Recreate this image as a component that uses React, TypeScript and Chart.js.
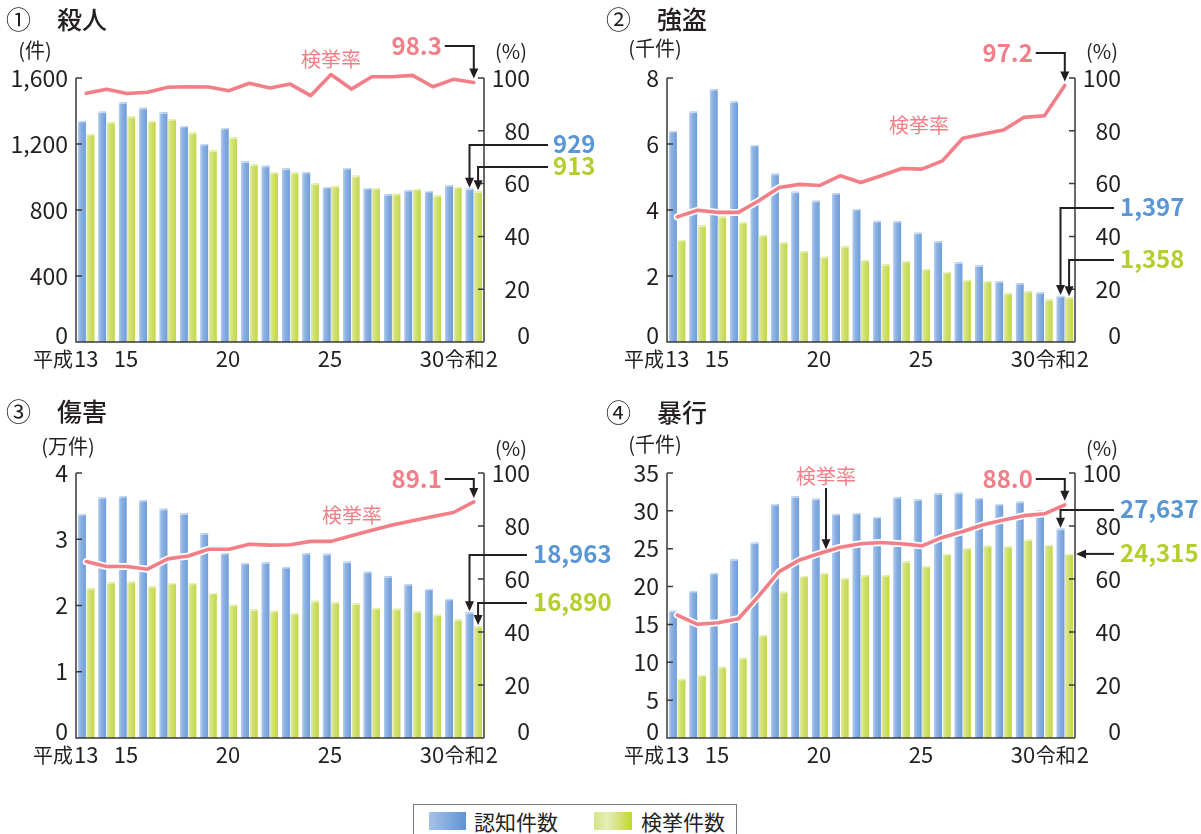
import { useEffect, useRef } from 'react';
import { Chart, registerables } from 'chart.js';

Chart.register(...registerables);

const FONT = '"Noto Sans CJK JP", "Noto Sans", sans-serif';
const INK = '#231f20';
const AXIS = '#3a3a3a';
const BLUE = '#7ea8de';
const GREEN = '#c9db5a';
const PINK = '#f27e87';
const BLUE_TEXT = '#5b96d4';
const GREEN_TEXT = '#b3cf2e';

// 平成13年 – 令和2年
const years = [
  '平成13', '14', '15', '16', '17', '18', '19', '20', '21', '22',
  '23', '24', '25', '26', '27', '28', '29', '30', '令和元', '2',
];
const xTickIndex = [0, 2, 7, 12, 17, 19];
const xTickText = ['平成13', '15', '20', '25', '30', '令和2'];

const rateTicks = [0, 20, 40, 60, 80, 100];

// ① 殺人 (件)
const murderTicks = [0, 400, 800, 1200, 1600];
const murderRecognized = [1340, 1396, 1452, 1419, 1392, 1309, 1199, 1297, 1094, 1068, 1051, 1030, 939, 1054, 933, 895, 920, 915, 950, 929];
const murderCleared = [1261, 1334, 1366, 1340, 1350, 1269, 1160, 1239, 1076, 1027, 1027, 961, 946, 1007, 932, 898, 928, 888, 940, 913];
const murderRate = [94.2, 95.7, 94.1, 94.6, 96.5, 96.7, 96.6, 95.2, 98.0, 96.2, 97.7, 93.3, 101.3, 95.8, 100.5, 100.5, 101.0, 96.7, 99.5, 98.3];

// ② 強盗 (千件)
const robberyTicks = [0, 2, 4, 6, 8];
const robberyRecognized = [6.39, 6.98, 7.66, 7.29, 5.97, 5.1, 4.55, 4.28, 4.51, 4.03, 3.67, 3.66, 3.31, 3.05, 2.41, 2.32, 1.84, 1.78, 1.5, 1.397];
const robberyCleared = [3.09, 3.53, 3.8, 3.63, 3.24, 3.03, 2.75, 2.58, 2.9, 2.48, 2.35, 2.45, 2.21, 2.12, 1.88, 1.85, 1.48, 1.54, 1.29, 1.358];
const robberyRate = [47.4, 49.9, 49.1, 49.1, 53.5, 58.5, 59.7, 59.3, 63.0, 60.4, 63.0, 65.7, 65.5, 68.6, 77.2, 78.8, 80.3, 85.1, 85.7, 97.2];

// ③ 傷害 (万件)
const assaultTicks = [0, 1, 2, 3, 4];
const assaultRecognized = [3.38, 3.63, 3.65, 3.59, 3.46, 3.39, 3.09, 2.79, 2.64, 2.65, 2.58, 2.79, 2.78, 2.66, 2.51, 2.44, 2.32, 2.25, 2.1, 1.8963];
const assaultCleared = [2.26, 2.35, 2.36, 2.29, 2.34, 2.34, 2.19, 2.01, 1.94, 1.92, 1.88, 2.07, 2.05, 2.03, 1.96, 1.95, 1.91, 1.86, 1.79, 1.689];
const assaultRate = [66.6, 64.7, 64.7, 63.7, 67.6, 68.7, 71.2, 71.2, 73.1, 72.8, 72.9, 74.2, 74.2, 76.3, 78.4, 80.4, 82.0, 83.6, 85.1, 89.1];

// ④ 暴行 (千件)
const violenceTicks = [0, 5, 10, 15, 20, 25, 30, 35];
const violenceRecognized = [16.8, 19.4, 21.8, 23.6, 25.8, 30.9, 31.9, 31.6, 29.6, 29.7, 29.2, 31.8, 31.5, 32.3, 32.4, 31.7, 30.9, 31.2, 30.1, 27.637];
const violenceCleared = [7.8, 8.3, 9.4, 10.6, 13.6, 19.3, 21.4, 21.8, 21.1, 21.5, 21.5, 23.3, 22.7, 24.3, 25.1, 25.4, 25.3, 26.2, 25.5, 24.315];
const violenceRate = [46.4, 42.9, 43.5, 45.0, 53.6, 62.8, 67.2, 69.7, 72.0, 73.3, 73.8, 73.3, 72.5, 75.7, 77.9, 80.5, 82.3, 83.9, 84.6, 88.0];

type Panel = {
  key: string;
  mark: string;
  title: string;
  unit: string;
  factor: number;
  ticks: number[];
  recognized: number[];
  cleared: number[];
  rate: number[];
  box: { x: number; y: number; w: number; h: number };
  area: { l: number; t: number; r: number; b: number };
  titleY: number;
  unitX: number;
  unitY: number;
  pctY: number;
  noteX: number;
  noteY: number;
  noteArrowIndex: number | null;
  pinkY: number;
  blueY: number;
  greenY: number;
  startX: number;
  textX: number;
  greenFromSide: boolean;
};

const panels: Panel[] = [
  {
    key: 'murder', mark: '①', title: '殺人', unit: '(件)', factor: 1,
    ticks: murderTicks, recognized: murderRecognized, cleared: murderCleared, rate: murderRate,
    box: { x: 0, y: 0, w: 620, h: 390 }, area: { l: 76, t: 78, r: 484, b: 342 },
    titleY: 19, unitX: 35, unitY: 50, pctY: 51, noteX: 331, noteY: 59, noteArrowIndex: null,
    pinkY: 46, blueY: 145, greenY: 167, startX: 548, textX: 553, greenFromSide: false,
  },
  {
    key: 'robbery', mark: '②', title: '強盗', unit: '(千件)', factor: 1000,
    ticks: robberyTicks, recognized: robberyRecognized, cleared: robberyCleared, rate: robberyRate,
    box: { x: 600, y: 0, w: 601, h: 390 }, area: { l: 67, t: 78, r: 475, b: 342 },
    titleY: 19, unitX: 55, unitY: 48, pctY: 51, noteX: 319, noteY: 125, noteArrowIndex: null,
    pinkY: 53, blueY: 208, greenY: 260, startX: 514, textX: 520, greenFromSide: false,
  },
  {
    key: 'assault', mark: '③', title: '傷害', unit: '(万件)', factor: 10000,
    ticks: assaultTicks, recognized: assaultRecognized, cleared: assaultCleared, rate: assaultRate,
    box: { x: 0, y: 390, w: 620, h: 395 }, area: { l: 76, t: 83, r: 484, b: 348 },
    titleY: 21, unitX: 68, unitY: 56, pctY: 58, noteX: 352, noteY: 125, noteArrowIndex: null,
    pinkY: 89, blueY: 165, greenY: 213, startX: 527, textX: 533, greenFromSide: false,
  },
  {
    key: 'violence', mark: '④', title: '暴行', unit: '(千件)', factor: 1000,
    ticks: violenceTicks, recognized: violenceRecognized, cleared: violenceCleared, rate: violenceRate,
    box: { x: 600, y: 390, w: 601, h: 395 }, area: { l: 67, t: 83, r: 475, b: 348 },
    titleY: 22, unitX: 55, unitY: 54, pctY: 58, noteX: 226, noteY: 86, noteArrowIndex: 7,
    pinkY: 89, blueY: 120, greenY: 165, startX: 514, textX: 520, greenFromSide: true,
  },
];

const BLUE_STOPS: [number, string][] = [[0, '#b4cdee'], [0.3, '#8fb3e3'], [1, '#6e9dd9']];
const GREEN_STOPS: [number, string][] = [[0, '#e2eca8'], [0.3, '#d3e27a'], [1, '#c3d748']];

function arrowDown(ctx: CanvasRenderingContext2D, x: number, y: number) {
  ctx.beginPath();
  ctx.moveTo(x, y);
  ctx.lineTo(x - 4.5, y - 10);
  ctx.lineTo(x + 4.5, y - 10);
  ctx.closePath();
  ctx.fill();
}

function arrowLeft(ctx: CanvasRenderingContext2D, x: number, y: number) {
  ctx.beginPath();
  ctx.moveTo(x, y);
  ctx.lineTo(x + 10, y - 4.5);
  ctx.lineTo(x + 10, y + 4.5);
  ctx.closePath();
  ctx.fill();
}

const fmt = (v: number) => v.toLocaleString('en-US');

function makeDecor(p: Panel) {
  return {
    id: 'decor-' + p.key,
    afterDatasetDraw(chart: any, args: any) {
      if (args.index > 1) return;
      const ctx: CanvasRenderingContext2D = chart.ctx;
      const stops = args.index === 0 ? BLUE_STOPS : GREEN_STOPS;
      ctx.save();
      args.meta.data.forEach((el: any) => {
        const { x, y, base, width } = el.getProps(['x', 'y', 'base', 'width'], true);
        const left = x - width / 2;
        const g = ctx.createLinearGradient(left, 0, left + width, 0);
        stops.forEach(([o, c]) => g.addColorStop(o, c));
        ctx.fillStyle = g;
        ctx.fillRect(left, y, width, base - y);
        ctx.fillStyle = 'rgba(255,255,255,0.55)';
        ctx.fillRect(left, y, width, 1.5);
      });
      ctx.restore();
    },
    afterDraw(chart: any) {
      const ctx: CanvasRenderingContext2D = chart.ctx;
      const { left, right, top, bottom } = chart.chartArea;
      const ys = chart.scales.y;
      const yr = chart.scales.y2;
      const xs = chart.scales.x;
      ctx.save();

      // axes and inward ticks
      ctx.strokeStyle = AXIS;
      ctx.lineWidth = 1.5;
      ctx.beginPath();
      ctx.moveTo(left, top);
      ctx.lineTo(left, bottom);
      ctx.lineTo(right, bottom);
      ctx.moveTo(right, top);
      ctx.lineTo(right, bottom);
      p.ticks.forEach((v) => {
        if (v === 0) return;
        const py = ys.getPixelForValue(v);
        ctx.moveTo(left, py);
        ctx.lineTo(left + 6, py);
      });
      rateTicks.forEach((v) => {
        if (v === 0) return;
        const py = yr.getPixelForValue(v);
        ctx.moveTo(right - 6, py);
        ctx.lineTo(right, py);
      });
      ctx.stroke();

      // y tick labels
      ctx.fillStyle = INK;
      ctx.textBaseline = 'middle';
      ctx.font = `23px ${FONT}`;
      ctx.textAlign = 'right';
      p.ticks.forEach((v) => {
        ctx.fillText(fmt(v), left - 8, ys.getPixelForValue(v) - (v === 0 ? 7 : 0));
      });
      rateTicks.forEach((v) => {
        ctx.fillText(String(v), right + 46, yr.getPixelForValue(v) - (v === 0 ? 7 : 0));
      });

      // x tick labels
      const labelY = bottom + 17;
      xTickIndex.forEach((idx, k) => {
        const text = xTickText[k];
        const m = text.match(/^(\D*)(\d+)$/);
        const prefix = m ? m[1] : '';
        const digits = m ? m[2] : text;
        const cx = xs.getPixelForValue(idx);
        ctx.font = `22px ${FONT}`;
        const dw = ctx.measureText(digits).width;
        ctx.font = `20px ${FONT}`;
        const pw = prefix ? ctx.measureText(prefix).width : 0;
        let digitsLeft: number;
        if (idx === 0) digitsLeft = cx - dw / 2;
        else if (prefix) digitsLeft = cx - 2 + (pw + dw) / 2 - dw;
        else digitsLeft = cx - 1 - dw / 2;
        if (prefix) {
          ctx.textAlign = 'right';
          ctx.fillText(prefix, digitsLeft - 1, labelY);
        }
        ctx.font = `22px ${FONT}`;
        ctx.textAlign = 'left';
        ctx.fillText(digits, digitsLeft, labelY);
      });

      // title and units
      ctx.textAlign = 'left';
      ctx.font = `25px ${FONT}`;
      ctx.fillText(p.mark, 6, p.titleY);
      ctx.font = `500 25px ${FONT}`;
      ctx.fillText(p.title, 57, p.titleY);
      ctx.font = `20px ${FONT}`;
      ctx.textAlign = 'center';
      ctx.fillText(p.unit, p.unitX, p.unitY);
      ctx.fillText('(%)', right + 27, p.pctY);

      // 検挙率 note
      ctx.fillStyle = PINK;
      ctx.font = `20px ${FONT}`;
      ctx.fillText('検挙率', p.noteX, p.noteY);
      ctx.fillStyle = INK;
      ctx.strokeStyle = INK;
      ctx.lineWidth = 2;
      if (p.noteArrowIndex !== null) {
        const ax = xs.getPixelForValue(p.noteArrowIndex) + 6;
        const ay = yr.getPixelForValue(p.rate[p.noteArrowIndex]) - 4;
        ctx.beginPath();
        ctx.moveTo(ax, p.noteY + 12);
        ctx.lineTo(ax, ay - 9);
        ctx.stroke();
        arrowDown(ctx, ax, ay);
      }

      // callouts for the latest year
      const last = p.rate.length - 1;
      const rx = xs.getPixelForValue(last);
      const ry = yr.getPixelForValue(p.rate[last]) - 4;
      ctx.beginPath();
      ctx.moveTo(rx - 29, p.pinkY);
      ctx.lineTo(rx, p.pinkY);
      ctx.lineTo(rx, ry - 9);
      ctx.stroke();
      arrowDown(ctx, rx, ry);

      const blueEl = chart.getDatasetMeta(0).data[last];
      const greenEl = chart.getDatasetMeta(1).data[last];
      ctx.beginPath();
      ctx.moveTo(p.startX, p.blueY);
      ctx.lineTo(blueEl.x, p.blueY);
      ctx.lineTo(blueEl.x, blueEl.y - 9);
      ctx.stroke();
      arrowDown(ctx, blueEl.x, blueEl.y - 1);

      if (p.greenFromSide) {
        ctx.beginPath();
        ctx.moveTo(p.startX, greenEl.y);
        ctx.lineTo(right + 9, greenEl.y);
        ctx.stroke();
        arrowLeft(ctx, right + 1, greenEl.y);
      } else {
        ctx.beginPath();
        ctx.moveTo(p.startX, p.greenY);
        ctx.lineTo(greenEl.x, p.greenY);
        ctx.lineTo(greenEl.x, greenEl.y - 9);
        ctx.stroke();
        arrowDown(ctx, greenEl.x, greenEl.y - 1);
      }

      ctx.font = `bold 24px ${FONT}`;
      ctx.textAlign = 'right';
      ctx.fillStyle = PINK;
      ctx.fillText(p.rate[last].toFixed(1), rx - 32, p.pinkY);
      ctx.textAlign = 'left';
      ctx.fillStyle = BLUE_TEXT;
      ctx.fillText(fmt(Math.round(p.recognized[last] * p.factor)), p.textX, p.blueY - 1);
      ctx.fillStyle = GREEN_TEXT;
      const greenTextY = p.greenFromSide ? greenEl.y - 1 : p.greenY - 1;
      ctx.fillText(fmt(Math.round(p.cleared[last] * p.factor)), p.textX, greenTextY);

      ctx.restore();
    },
  };
}

function PanelChart({ p }: { p: Panel }) {
  const ref = useRef<HTMLCanvasElement | null>(null);
  useEffect(() => {
    if (!ref.current) return;
    const chart = new Chart(ref.current, {
      type: 'bar',
      data: {
        labels: years,
        datasets: [
          {
            type: 'bar', label: '認知件数', data: p.recognized, backgroundColor: BLUE,
            yAxisID: 'y', order: 3, categoryPercentage: 0.84, barPercentage: 0.88,
          },
          {
            type: 'bar', label: '検挙件数', data: p.cleared, backgroundColor: GREEN,
            yAxisID: 'y', order: 3, categoryPercentage: 0.84, barPercentage: 0.88,
          },
          {
            type: 'line', label: '検挙率 (縁取り)', data: p.rate, borderColor: '#ffffff', borderWidth: 7,
            pointRadius: 0, yAxisID: 'y2', order: 2, clip: false, tension: 0,
            borderCapStyle: 'round', borderJoinStyle: 'round',
          },
          {
            type: 'line', label: '検挙率', data: p.rate, borderColor: PINK, borderWidth: 3.6,
            pointRadius: 0, yAxisID: 'y2', order: 1, clip: false, tension: 0,
            borderCapStyle: 'round', borderJoinStyle: 'round',
          },
        ] as any,
      },
      options: {
        animation: false,
        responsive: false,
        devicePixelRatio: 1,
        events: [],
        layout: {
          padding: {
            left: p.area.l,
            top: p.area.t,
            right: p.box.w - p.area.r,
            bottom: p.box.h - p.area.b,
          },
        },
        plugins: { legend: { display: false }, tooltip: { enabled: false } },
        scales: {
          x: { display: false, offset: true },
          y: { display: false, min: 0, max: p.ticks[p.ticks.length - 1], position: 'left' },
          y2: { display: false, min: 0, max: 100, position: 'right' },
        },
      },
      plugins: [makeDecor(p)],
    });
    return () => chart.destroy();
  }, [p]);
  return (
    <canvas
      ref={ref}
      width={p.box.w}
      height={p.box.h}
      style={{ position: 'absolute', left: p.box.x, top: p.box.y, width: p.box.w, height: p.box.h }}
    />
  );
}

function Legend() {
  const text: React.CSSProperties = {
    position: 'absolute', top: 3, fontSize: 21, lineHeight: '26px', color: INK, fontFamily: FONT,
  };
  return (
    <div
      style={{
        position: 'absolute', left: 413, top: 804, width: 324, height: 40,
        border: '1.5px solid #7a7a7a', boxSizing: 'border-box', background: '#fff',
      }}
    >
      <div
        style={{
          position: 'absolute', left: 15, top: 7, width: 37, height: 18,
          background: 'linear-gradient(to right, #a6c2e7, #8fb2e2 35%, #5f93d3)',
        }}
      />
      <div style={{ ...text, left: 60 }}>認知件数</div>
      <div
        style={{
          position: 'absolute', left: 180, top: 7, width: 38, height: 18,
          background: 'linear-gradient(to right, #d6e48a, #e6edb8 35%, #c1d631)',
        }}
      />
      <div style={{ ...text, left: 227 }}>検挙件数</div>
    </div>
  );
}

export default function App() {
  return (
    <div
      style={{
        position: 'absolute', left: 0, top: 0, width: 1201, height: 834,
        overflow: 'hidden', background: '#ffffff',
      }}
    >
      {panels.map((p) => (
        <PanelChart key={p.key} p={p} />
      ))}
      <Legend />
    </div>
  );
}
